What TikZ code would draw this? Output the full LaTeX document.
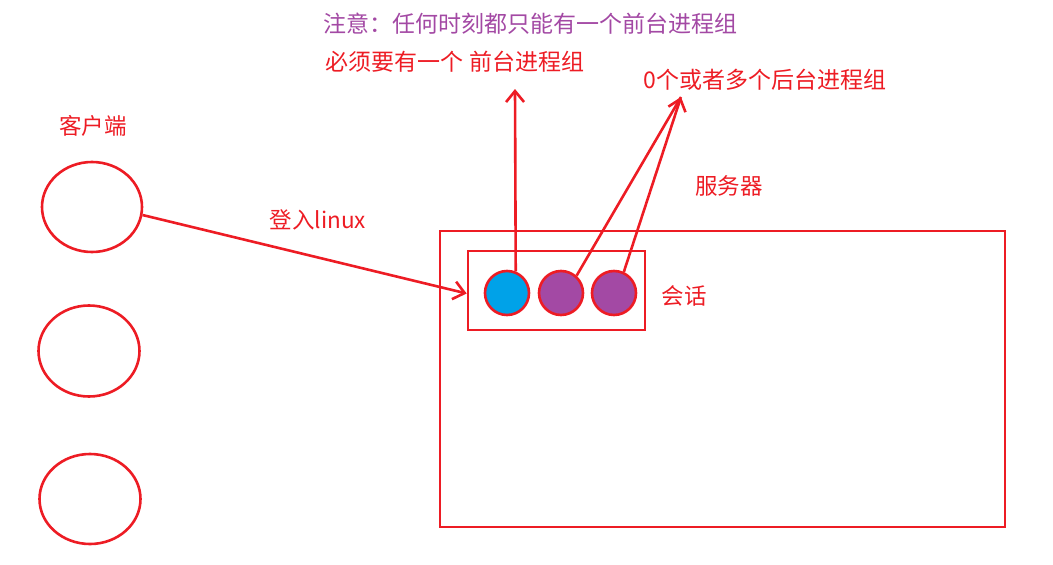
\documentclass[tikz,border=0pt]{standalone}
\usepackage{fontspec}
\newfontfamily\cjk{Noto Sans CJK SC}
\usetikzlibrary{arrows.meta,shapes.geometric}
\definecolor{pred}{HTML}{ED1C24}
\definecolor{ppurple}{HTML}{A349A4}
\definecolor{pblue}{HTML}{00A2E8}
\begin{document}
\begin{tikzpicture}[x=1pt,y=-1pt,
  redline/.style={draw=pred,line width=2.6pt},
  client/.style={redline,ellipse,inner sep=0pt},
  proc/.style={redline,circle,minimum size=44pt,inner sep=0pt},
  lbl/.style={text=pred,font=\cjk\fontsize{22.5}{26}\selectfont,inner sep=0pt},
  bigl/.style={font=\cjk\fontsize{23}{27}\selectfont,inner sep=0pt},
  arr/.style={redline,-{Straight Barb[length=11pt,width=18pt,line width=2.6pt]}}]
\useasboundingbox (0,0) rectangle (1053,565);
\node[client,minimum width=100pt,minimum height=90pt] (c1) at (92,207) {};
\node[client,minimum width=101pt,minimum height=91pt] (c2) at (89,351) {};
\node[client,minimum width=101pt,minimum height=90pt] (c3) at (90,499) {};
\node[lbl] (tclient) at (93,126) {客户端};
\node[redline,minimum width=565pt,minimum height=296pt,inner sep=0pt] (server) at (722.5,379) {};
\node[lbl] (tserver) at (729,186) {服务器};
\node[redline,minimum width=177pt,minimum height=79pt,inner sep=0pt] (sess) at (556.5,290.5) {};
\node[lbl] (tsess) at (684,296) {会话};
\node[proc,fill=pblue] (b1) at (507,293) {};
\node[proc,fill=ppurple] (p1) at (561,293) {};
\node[proc,fill=ppurple] (p2) at (614,293) {};
\node[lbl] (tlogin) at (318,220) {登入linux};
\coordinate (upend) at (515,89);
\coordinate (bgend) at (681,97);
\node[bigl,text=ppurple] (tnote) at (530,24) {注意：任何时刻都只能有一个前台进程组};
\node[bigl,text=pred] (tfg) at (455,62) {必须要有一个 前台进程组};
\node[bigl,text=pred] (tbg) at (765,80) {0个或者多个后台进程组};
\draw[arr] (c1.-9) -- ([yshift=-3pt]sess.west);
\draw[arr] (b1.68) -- (upend);
\draw[redline] (p1.48) -- (bgend);
\draw[arr] (p2.65) -- (bgend);
\end{tikzpicture}
\end{document}
